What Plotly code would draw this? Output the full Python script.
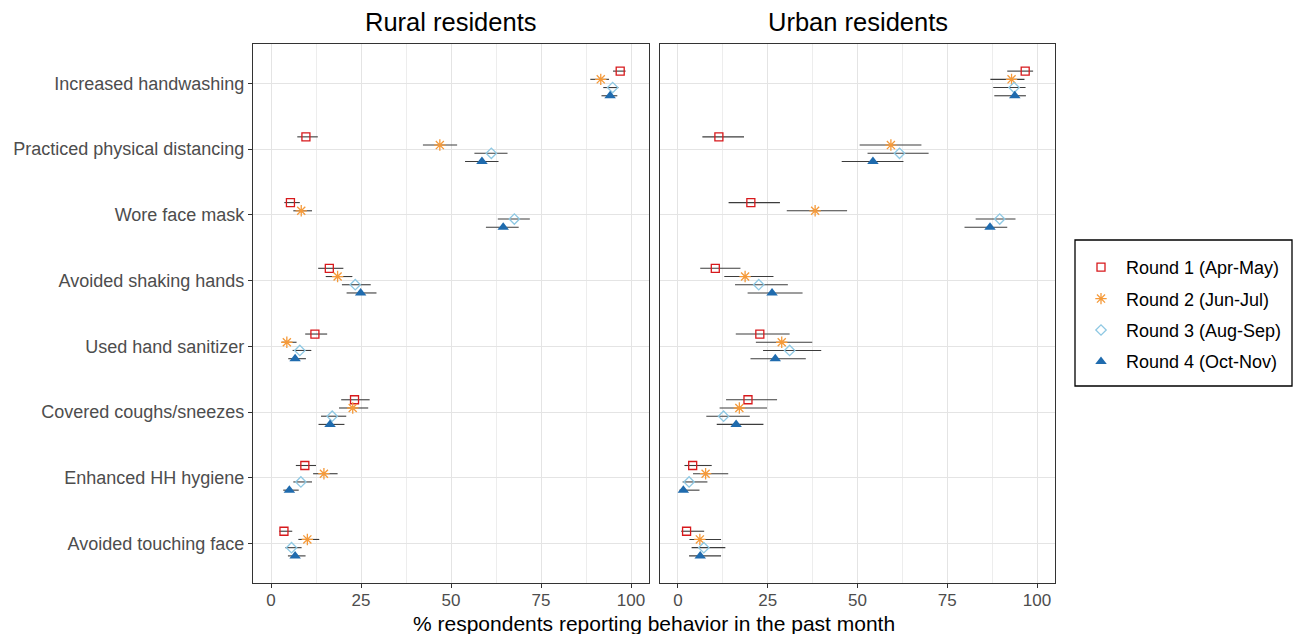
import plotly.graph_objects as go

# Behaviours, listed top to bottom
behaviors = [
    "Increased handwashing",
    "Practiced physical distancing",
    "Wore face mask",
    "Avoided shaking hands",
    "Used hand sanitizer",
    "Covered coughs/sneezes",
    "Enhanced HH hygiene",
    "Avoided touching face",
]

round_names = ["Round 1 (Apr-May)", "Round 2 (Jun-Jul)", "Round 3 (Aug-Sep)", "Round 4 (Oct-Nov)"]

# Rural residents: estimate, lower and upper bound per round (%)
rural_r1 = [97.0, 9.7, 5.4, 16.2, 12.2, 23.2, 9.4, 3.6]
rural_r1_lo = [95.0, 7.3, 3.7, 13.1, 9.5, 19.5, 6.9, 2.3]
rural_r1_hi = [98.5, 13.0, 8.0, 20.1, 15.6, 27.4, 12.5, 5.9]

rural_r2 = [91.6, 46.9, 8.4, 18.5, 4.4, 22.7, 14.7, 10.1]
rural_r2_lo = [88.7, 42.2, 6.2, 15.2, 3.0, 18.9, 11.7, 7.6]
rural_r2_hi = [93.9, 51.7, 11.4, 22.6, 7.1, 27.0, 18.5, 13.4]

rural_r3 = [94.9, 61.2, 67.6, 23.4, 8.0, 17.0, 8.3, 5.7]
rural_r3_lo = [92.3, 56.5, 63.0, 19.7, 6.0, 13.9, 6.2, 4.0]
rural_r3_hi = [96.5, 65.7, 71.9, 27.7, 11.2, 20.9, 11.4, 8.5]

rural_r4 = [94.2, 58.6, 64.5, 24.9, 6.7, 16.4, 5.1, 6.7]
rural_r4_lo = [91.8, 53.9, 59.7, 21.0, 4.8, 13.2, 3.4, 4.7]
rural_r4_hi = [96.2, 63.2, 68.8, 29.3, 9.7, 20.4, 7.7, 9.6]

# Urban residents
urban_r1 = [96.7, 11.4, 20.3, 10.4, 22.8, 19.5, 4.1, 2.4]
urban_r1_lo = [91.7, 6.8, 14.1, 6.2, 16.1, 13.4, 1.8, 0.9]
urban_r1_hi = [98.9, 18.4, 28.4, 17.4, 31.1, 27.6, 9.4, 7.3]

urban_r2 = [92.9, 59.3, 38.2, 18.7, 28.9, 17.1, 7.7, 6.1]
urban_r2_lo = [87.0, 50.6, 30.3, 12.9, 21.7, 11.6, 4.2, 3.2]
urban_r2_hi = [96.5, 67.8, 47.1, 26.6, 37.4, 24.8, 14.0, 12.0]

urban_r3 = [93.6, 61.7, 89.6, 22.5, 31.1, 12.7, 3.1, 7.2]
urban_r3_lo = [87.8, 52.8, 82.9, 15.9, 23.7, 7.9, 1.3, 3.8]
urban_r3_hi = [96.8, 69.8, 94.0, 30.6, 39.9, 20.0, 8.2, 13.2]

urban_r4 = [93.8, 54.3, 86.9, 26.2, 27.1, 16.2, 1.5, 6.2]
urban_r4_lo = [88.1, 45.6, 79.8, 19.4, 20.2, 10.8, 0.4, 3.1]
urban_r4_hi = [96.9, 62.8, 91.7, 34.7, 35.6, 23.8, 6.0, 12.0]

x_ticks = [0, 25, 50, 75, 100]

rural = [(rural_r1, rural_r1_lo, rural_r1_hi), (rural_r2, rural_r2_lo, rural_r2_hi),
         (rural_r3, rural_r3_lo, rural_r3_hi), (rural_r4, rural_r4_lo, rural_r4_hi)]
urban = [(urban_r1, urban_r1_lo, urban_r1_hi), (urban_r2, urban_r2_lo, urban_r2_hi),
         (urban_r3, urban_r3_lo, urban_r3_hi), (urban_r4, urban_r4_lo, urban_r4_hi)]

# Marker styling per round
colors = ["#D7191C", "#F59A3A", "#8EC8E3", "#1F6BAE"]
symbols = ["square-open", "asterisk-open", "diamond-open", "triangle-up"]
sizes = [8, 9.5, 8, 10]
line_widths = [1.3, 1.3, 1.3, 0]
dodge = [0.1875, 0.0625, -0.0625, -0.1875]

FONT = "Liberation Sans, Arial, sans-serif"
W, H = 1295, 634

n = len(behaviors)
base_y = [n - i for i in range(n)]  # top category sits highest

fig = go.Figure()

for panel, (data, xa, ya) in enumerate([(rural, "x", "y"), (urban, "x2", "y2")]):
    for k, (est, lo, hi) in enumerate(data):
        ys = [b + dodge[k] for b in base_y]
        fig.add_trace(go.Scatter(
            x=est, y=ys, xaxis=xa, yaxis=ya,
            mode="markers",
            name=round_names[k],
            legendgroup=round_names[k],
            showlegend=(panel == 0),
            marker=dict(symbol=symbols[k], size=sizes[k], color=colors[k],
                        line=dict(color=colors[k], width=line_widths[k])),
            error_x=dict(type="data", symmetric=False,
                         array=[h - e for e, h in zip(est, hi)],
                         arrayminus=[e - l for e, l in zip(est, lo)],
                         color="#3c3c3c", thickness=1.1, width=0),
            hoverinfo="x+name",
        ))

# Panel geometry in pixels
left_px = (253, 649)
right_px = (660, 1055)
top_px, bottom_px = 44, 583

def fx(px):
    return px / W

def fy(py):
    return 1 - py / H

xaxis_common = dict(
    range=[-5, 105], tickvals=x_ticks, ticktext=[str(v) for v in x_ticks],
    showgrid=True, gridcolor="#E4E4E4", gridwidth=1.4,
    minor=dict(dtick=12.5, tick0=12.5, showgrid=True, gridcolor="#EDEDED", gridwidth=0.9),
    zeroline=False, showline=True, mirror=True, linecolor="#333333", linewidth=1.1,
    ticks="outside", ticklen=4, tickcolor="#333333", tickwidth=1.1,
    ticklabelstandoff=-2,
    tickfont=dict(family=FONT, size=17, color="#4D4D4D"),
    automargin=False,
)
yaxis_common = dict(
    range=[0.4, n + 0.6], tickvals=base_y,
    showgrid=True, gridcolor="#E4E4E4", gridwidth=1.4,
    zeroline=False, showline=True, mirror=True, linecolor="#333333", linewidth=1.1,
    automargin=False,
)

fig.update_layout(
    width=W, height=H,
    margin=dict(l=0, r=0, t=0, b=0),
    paper_bgcolor="white", plot_bgcolor="white",
    font=dict(family=FONT, color="#000000"),
    xaxis=dict(domain=[fx(left_px[0]), fx(left_px[1])], anchor="y", **xaxis_common),
    xaxis2=dict(domain=[fx(right_px[0]), fx(right_px[1])], anchor="y2", **xaxis_common),
    yaxis=dict(domain=[fy(bottom_px), fy(top_px)], anchor="x",
               ticktext=behaviors, ticks="outside", ticklen=4, tickcolor="#333333", tickwidth=1.1,
               tickfont=dict(family=FONT, size=18, color="#4D4D4D"), **yaxis_common),
    yaxis2=dict(domain=[fy(bottom_px), fy(top_px)], anchor="x2",
                showticklabels=False, ticks="", **yaxis_common),
    legend=dict(
        x=fx(1076), y=fy(249), xanchor="left", yanchor="top",
        borderwidth=0, bgcolor="rgba(0,0,0,0)",
        font=dict(family=FONT, size=18, color="#000000"),
        tracegroupgap=5, itemwidth=40,
    ),
    shapes=[
        # legend frame
        dict(type="rect", xref="paper", yref="paper",
             x0=fx(1075), x1=fx(1292), y0=fy(386), y1=fy(240),
             line=dict(color="#000000", width=1.3), fillcolor="rgba(0,0,0,0)", layer="below"),
    ],
    annotations=[
        dict(text="Rural residents", x=fx(sum(left_px) / 2), y=fy(22), xref="paper", yref="paper",
             showarrow=False, xanchor="center", yanchor="middle",
             font=dict(family=FONT, size=25.5, color="#000000")),
        dict(text="Urban residents", x=fx(sum(right_px) / 2), y=fy(22), xref="paper", yref="paper",
             showarrow=False, xanchor="center", yanchor="middle",
             font=dict(family=FONT, size=25.5, color="#000000")),
        dict(text="% respondents reporting behavior in the past month",
             x=fx((left_px[0] + right_px[1]) / 2), y=fy(623), xref="paper", yref="paper",
             showarrow=False, xanchor="center", yanchor="middle",
             font=dict(family=FONT, size=21, color="#000000")),
    ],
)

fig.write_html("out.html")
